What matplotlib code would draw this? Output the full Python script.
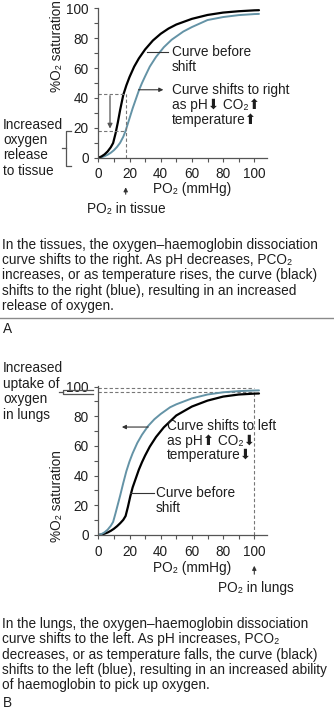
import matplotlib
matplotlib.use("Agg")
import matplotlib.pyplot as plt
from matplotlib.lines import Line2D

plt.rcParams['font.family'] = ['Liberation Sans', 'DejaVu Sans']

W, H = 334, 713
FS = 9.8
TXT = '#1e1e1e'
AXC = '#555555'
BLUE = '#6493a6'

# ---------------- data ----------------
# Panel A (tissues): curve before shift (black) and right-shifted curve (blue)
po2_black_A = [0, 2, 4, 6, 8, 9.5, 11, 12.5, 14, 16, 18, 20, 23, 26, 30, 35, 40, 45, 50, 60, 70, 80, 90, 100, 103]
sat_black_A = [0, 0.8, 2.2, 4.2, 7, 9.8, 16, 23.5, 32, 42, 48.5, 54, 61, 66.5, 72.5, 78.5, 83, 86.5, 89.2, 93, 95.6, 97.2, 98.1, 98.7, 98.8]
po2_blue_A = [0, 2, 4, 6, 8, 10, 12, 14, 16, 17.5, 19, 20.5, 22, 24, 26, 28, 30, 33, 37, 42, 47, 54.5, 60, 70, 80, 90, 100, 103]
sat_blue_A = [0, 0.3, 1, 2, 3.3, 5, 7.2, 10, 14, 18, 23, 28, 33, 39, 45, 50, 54.5, 61, 67.5, 74, 79, 84.5, 87.5, 92.2, 94.2, 95.5, 96.2, 96.3]

# Panel B (lungs): curve before shift (black) and left-shifted curve (blue)
po2_black_B = [0, 2, 4, 6, 8, 10, 12, 14, 16, 17.5, 19, 20.5, 22, 24, 26, 28, 30, 33, 37, 42, 50, 60, 70, 80, 90, 100, 103]
sat_black_B = [0, 0.3, 0.9, 1.7, 2.8, 4.2, 5.9, 7.9, 10.2, 12.8, 19, 26, 32, 38, 44, 49, 53.5, 59.5, 66, 72.5, 80.5, 86.5, 90.5, 93.2, 94.6, 95.2, 95.3]
po2_blue_B = [0, 2, 4, 6, 8, 9.5, 11, 12.5, 14, 16, 18, 20, 22, 25, 28, 32, 36, 40, 46, 50, 60, 70, 80, 90, 100, 103]
sat_blue_B = [0, 0.6, 1.8, 3.6, 6.2, 8.8, 14.5, 20.5, 26.5, 35, 43, 49.5, 55, 62, 67.5, 73.5, 78, 81.5, 86, 88, 92, 94.6, 96.1, 96.9, 97.3, 97.4]

x_ticks = [0, 20, 40, 60, 80, 100]
y_ticks = [0, 20, 40, 60, 80, 100]

# reference markers
tissue_po2 = 17.5
tissue_sat_before = 43
tissue_sat_after = 18
lung_po2 = 100
lung_sat_levels = [99, 96.5]

fig = plt.figure(figsize=(W / 100, H / 100), dpi=100)


def fx(px):
    return px / W


def fy(py):
    return 1 - py / H


def ftext(px, py, s, ha='left', va='center', **kw):
    kw.setdefault('fontsize', FS)
    kw.setdefault('color', TXT)
    fig.text(fx(px), fy(py), s, ha=ha, va=va, **kw)


def fline(xs, ys, **kw):
    kw.setdefault('color', AXC)
    kw.setdefault('lw', 0.9)
    fig.add_artist(Line2D([fx(x) for x in xs], [fy(y) for y in ys],
                          transform=fig.transFigure, **kw))


def make_axes(y0px, y100px):
    left = 98.3
    xpx = 1.56
    ypx = (y0px - y100px) / 100.0
    xmax, ymax = 108, 100.5
    ax = fig.add_axes([fx(left), fy(y0px), xmax * xpx / W, ymax * ypx / H])
    ax.set_xlim(0, xmax)
    ax.set_ylim(0, ymax)
    for s in ['top', 'right']:
        ax.spines[s].set_visible(False)
    for s in ['left', 'bottom']:
        ax.spines[s].set_color(AXC)
        ax.spines[s].set_linewidth(0.9)
    ax.set_xticks(x_ticks)
    ax.set_yticks(y_ticks)
    ax.set_xticks(range(10, 110, 20), minor=True)
    ax.set_yticks(range(10, 100, 20), minor=True)
    ax.tick_params(which='both', direction='out', length=3, width=0.8,
                   color=AXC, labelsize=FS, labelcolor=TXT)
    ax.tick_params(axis='x', pad=4)
    ax.tick_params(axis='y', pad=4)
    ax.patch.set_alpha(0)
    return ax


dash = dict(color='#777777', lw=0.8, ls=(0, (3, 2)))

# ================= Panel A =================
axA = make_axes(157.7, 8.4)
axA.plot(po2_blue_A, sat_blue_A, color=BLUE, lw=1.4, solid_capstyle='round')
axA.plot(po2_black_A, sat_black_A, color='black', lw=1.6, solid_capstyle='round')
axA.plot([0, tissue_po2], [tissue_sat_before] * 2, **dash)
axA.plot([0, tissue_po2], [tissue_sat_after] * 2, **dash)
axA.plot([tissue_po2, tissue_po2], [0, tissue_sat_before], **dash)
axA.annotate('', xy=(7.5, 19.5), xytext=(7.5, 41.5),
             arrowprops=dict(arrowstyle='-|>', color='#555555', lw=0.9,
                             mutation_scale=7, shrinkA=0, shrinkB=0))
axA.plot([31, 44.7], [71, 71], color='#333333', lw=0.8)
axA.annotate('', xy=(41.7, 45.5), xytext=(25.8, 45.5),
             arrowprops=dict(arrowstyle='-|>', color='#333333', lw=0.8,
                             mutation_scale=6, shrinkA=0, shrinkB=0))

ftext(57, 46, '%O\u2082 saturation', ha='center', rotation=90)
ftext(192, 189, 'PO\u2082 (mmHg)', ha='center')
fig.add_artist(matplotlib.patches.FancyArrowPatch(
    (fx(125.7), fy(197)), (fx(125.7), fy(184.5)), transform=fig.transFigure,
    arrowstyle='-|>', mutation_scale=6, color='#333333', lw=0.8))
ftext(126, 209, 'PO\u2082 in tissue', ha='center')

ftext(171.7, 52.3, 'Curve before')
ftext(171.7, 66.7, 'shift')
ftext(171.7, 90, 'Curve shifts to right')
ftext(171.7, 105, 'as pH\u2b07 CO\u2082\u2b06')
ftext(171.7, 120, 'temperature\u2b06')

for i, s in enumerate(['Increased', 'oxygen', 'release', 'to tissue']):
    ftext(3, [125, 140, 155, 170.7][i], s)
# bracket
fline([70.5, 65.7, 65.7, 70.5], [131, 131, 165.7, 165.7])
fline([61.7, 65.7], [148.3, 148.3])

capA = ['In the tissues, the oxygen\u2013haemoglobin dissociation',
        'curve shifts to the right. As pH decreases, PCO\u2082',
        'increases, or as temperature rises, the curve (black)',
        'shifts to the right (blue), resulting in an increased',
        'release of oxygen.']
for s, y in zip(capA, [245, 260, 275, 290.7, 306]):
    ftext(2, y, s)
fline([0, 334], [317.7, 317.7], color='#8a8a8a', lw=1.0)
ftext(3, 329.3, 'A')

# ================= Panel B =================
axB = make_axes(535, 386.5)
for lvl in lung_sat_levels:
    axB.plot([0, lung_po2], [lvl, lvl], **dash)
axB.plot([lung_po2, lung_po2], [0, lung_sat_levels[-1]], **dash)
axB.plot(po2_black_B, sat_black_B, color='black', lw=1.6, solid_capstyle='round')
axB.plot(po2_blue_B, sat_blue_B, color=BLUE, lw=1.4, solid_capstyle='round')
axB.annotate('', xy=(15.1, 72.7), xytext=(32, 72.7),
             arrowprops=dict(arrowstyle='-|>', color='#333333', lw=0.8,
                             mutation_scale=6, shrinkA=0, shrinkB=0))
axB.plot([20.5, 35.4], [28, 28], color='#333333', lw=0.8)

ftext(57, 496, '%O\u2082 saturation', ha='center', rotation=90)
ftext(192, 568, 'PO\u2082 (mmHg)', ha='center')
fig.add_artist(matplotlib.patches.FancyArrowPatch(
    (fx(254.3), fy(577)), (fx(254.3), fy(563)), transform=fig.transFigure,
    arrowstyle='-|>', mutation_scale=6, color='#333333', lw=0.8))
ftext(256, 588.3, 'PO\u2082 in lungs', ha='center')

ftext(166.7, 426, 'Curve shifts to left')
ftext(166.7, 440.7, 'as pH\u2b06 CO\u2082\u2b07')
ftext(166.7, 455, 'temperature\u2b07')
ftext(156, 493.3, 'Curve before')
ftext(156, 508.3, 'shift')

for s, y in zip(['Increased', 'uptake of', 'oxygen', 'in lungs'], [368.3, 384.3, 399.3, 415]):
    ftext(3, y, s)
fline([93.3, 63.3, 63.3, 93.3], [390, 390, 394.3, 394.3])
fline([59, 63.3], [392.2, 392.2])

capB = ['In the lungs, the oxygen\u2013haemoglobin dissociation',
        'curve shifts to the left. As pH increases, PCO\u2082',
        'decreases, or as temperature falls, the curve (black)',
        'shifts to the left (blue), resulting in an increased ability',
        'of haemoglobin to pick up oxygen.']
for s, y in zip(capB, [624, 639.3, 655, 670, 685]):
    ftext(2, y, s)
ftext(3, 703.3, 'B')

fig.savefig('out.png', dpi=100, facecolor='white')
